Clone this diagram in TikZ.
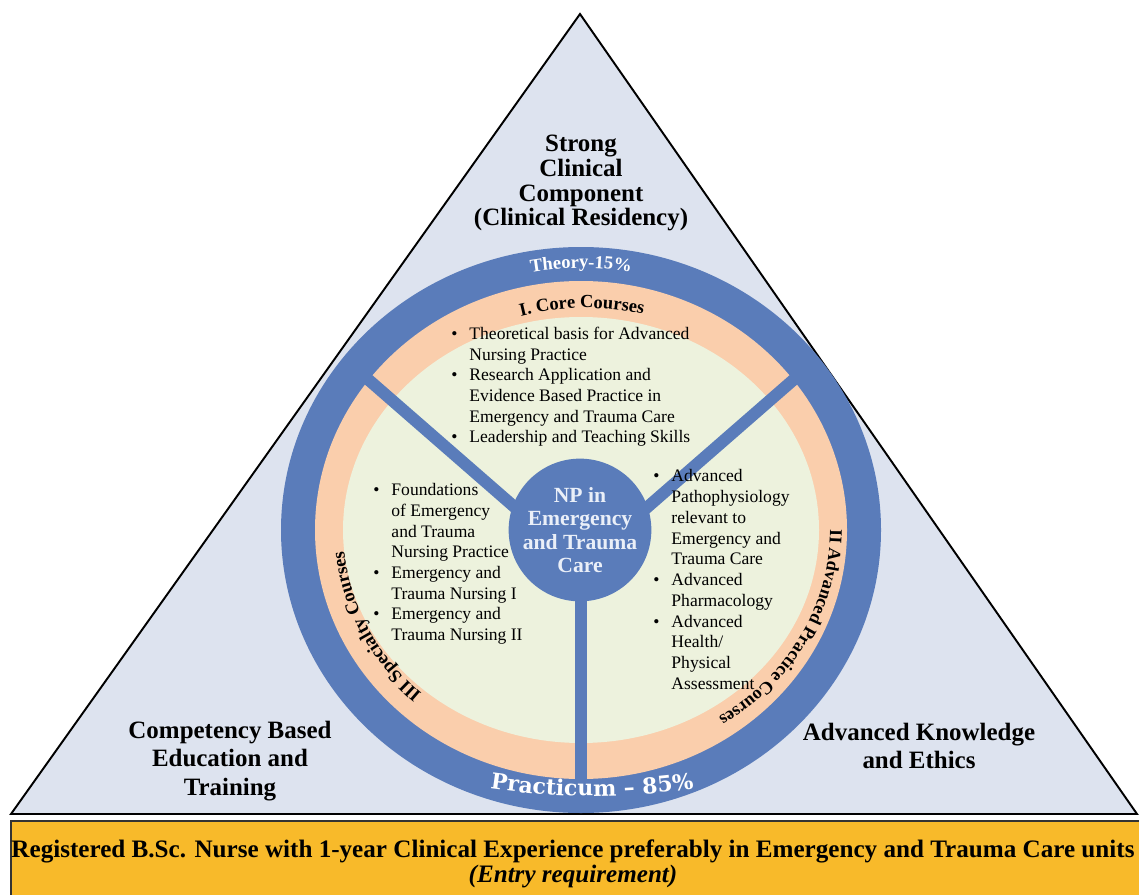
\documentclass[tikz,border=0pt]{standalone}
\usepackage{fontspec}
\setmainfont{Liberation Serif}
\newfontfamily\widefont{DejaVu Serif}
\usetikzlibrary{calc,decorations.text,positioning}

\definecolor{ringblue}{RGB}{90,124,186}
\definecolor{peach}{RGB}{250,206,172}
\definecolor{cream}{RGB}{237,242,221}
\definecolor{pyramid}{RGB}{221,227,239}
\definecolor{entryyellow}{RGB}{248,186,42}
\definecolor{hubtext}{RGB}{234,239,248}

\begin{document}
\begin{tikzpicture}[x=0.02cm, y=0.02cm]
% We define the styles for the text blocks and the ring parts
 \tikzset{
corner/.style = {font=\fontsize{14.2}{16.3}\selectfont\bfseries, align=center, inner sep=0pt},
courses/.style = {font=\fontsize{10}{11.8}\selectfont, inner sep=0pt, anchor=west},
spoke/.style = {ringblue, line width=0.24cm},
hub/.style = {circle, fill=ringblue, minimum size=2.72cm, inner sep=0pt, text=hubtext, align=center, font=\fontsize{12.3}{13.4}\selectfont\bfseries},
entry/.style = {align=center, inner sep=0pt, font=\fontsize{14.3}{14.2}\selectfont\bfseries},
}
 \useasboundingbox (0,0) rectangle (1139,894);
 \fill[white] (0,0) rectangle (1139,894);

 % Pyramid
 \coordinate (apex) at (580,880);
 \coordinate (baseL) at (11,80);
 \coordinate (baseR) at (1137,80);
 \filldraw[fill=pyramid, draw=black, line width=1.1pt] (apex) -- (baseL) -- (baseR) -- cycle;

 % Entry requirement box
 \filldraw[fill=entryyellow, draw=black!80, line width=1.2pt] (11,-10) rectangle (1150,73);
 \node[entry] (entry) at (573,30.5) {Registered B.Sc. Nurse with 1-year Clinical Experience preferably in Emergency and Trauma Care units\\ \textit{(Entry requirement)}};

 % Rings
 \coordinate (ctr) at (581,364);
 \coordinate (tctr) at (586,364);
 \coordinate (pctr) at (592,798);
 \fill[ringblue] (ctr) ellipse [x radius=300, y radius=283];
 \fill[peach] (ctr) ellipse [x radius=266, y radius=249];
 \fill[cream] (ctr) ellipse [x radius=238, y radius=213];

 % Spokes
 \coordinate (fork) at (581,329);
 \coordinate (spokeL) at (355,526);
 \coordinate (spokeR) at (807,526);
 \coordinate (spokeB) at (581,112);
 \draw[spoke] (spokeL) -- (fork) -- (spokeR);
 \draw[spoke] (fork) -- (spokeB);

 % Hub
 \node[hub] (np) at (580,364) {NP in\\Emergency\\and Trauma\\Care};

 % Theory and practicum shares on the outer ring
 \path[decorate, decoration={text along path, text align=center, text color=white,
   text={|\fontsize{10.5}{12}\selectfont\bfseries|Theory-15{\%}}}]
   ($(ctr)+(130:278 and 262)$) arc[start angle=130, end angle=50, x radius=278, y radius=262];
 \path[decorate, decoration={text along path, text align=center, text color=white,
   text={|\widefont\fontsize{12.5}{14}\selectfont\bfseries|Practicum {–} 85{\%}}}]
   ($(pctr)+(255:700)$) arc[start angle=255, end angle=285, radius=700];

 % Course group titles on the inner ring
 \path[decorate, decoration={text along path, text align=center,
   text={|\fontsize{10.5}{12}\selectfont\bfseries|I. Core Courses}}]
   ($(tctr)+(131:243 and 222)$) arc[start angle=131, end angle=51, x radius=243, y radius=222];
 \path[decorate, decoration={text along path, text align=center,
   text={|\fontsize{10.2}{12}\selectfont\bfseries|II Advanced Practice Courses}}]
   ($(tctr)+(14:244 and 223)$) arc[start angle=14, end angle=-70, x radius=244, y radius=223];
 \path[decorate, decoration={text along path, text align=center,
   text={|\fontsize{10.5}{12}\selectfont\bfseries|III Specialty Courses}}]
   ($(tctr)+(246:243 and 222)$) arc[start angle=246, end angle=166, x radius=243, y radius=222];

 % Course lists
 \node[courses] (core) at (451,507) {\begin{tabular}{@{}l@{\hspace{6.8pt}}l@{}}
 \textbullet & Theoretical basis for Advanced\\
  & Nursing Practice\\
 \textbullet & Research Application and\\
  & Evidence Based Practice in\\
  & Emergency and Trauma Care\\
 \textbullet & Leadership and Teaching Skills
 \end{tabular}};
 \node[courses] (specialty) at (373,330) {\begin{tabular}{@{}l@{\hspace{6.8pt}}l@{}}
 \textbullet & Foundations\\
  & of Emergency\\
  & and Trauma\\
  & Nursing Practice\\
 \textbullet & Emergency and\\
  & Trauma Nursing I\\
 \textbullet & Emergency and\\
  & Trauma Nursing II
 \end{tabular}};
 \node[courses] (advanced) at (653,312.5) {\begin{tabular}{@{}l@{\hspace{6.8pt}}l@{}}
 \textbullet & Advanced\\
  & Pathophysiology\\
  & relevant to\\
  & Emergency and\\
  & Trauma Care\\
 \textbullet & Advanced\\
  & Pharmacology\\
 \textbullet & Advanced\\
  & Health/\\
  & Physical\\
  & Assessment
 \end{tabular}};

 % Pyramid corner labels
 \node[corner, font=\fontsize{14.2}{14.2}\selectfont\bfseries] (clinical) at (581,711) {Strong\\Clinical\\Component\\(Clinical Residency)};
 \node[corner] (competency) at (230,133) {Competency Based\\Education and\\Training};
 \node[corner] (knowledge) at (919,148) {Advanced Knowledge\\and Ethics};

\end{tikzpicture}
\end{document}
